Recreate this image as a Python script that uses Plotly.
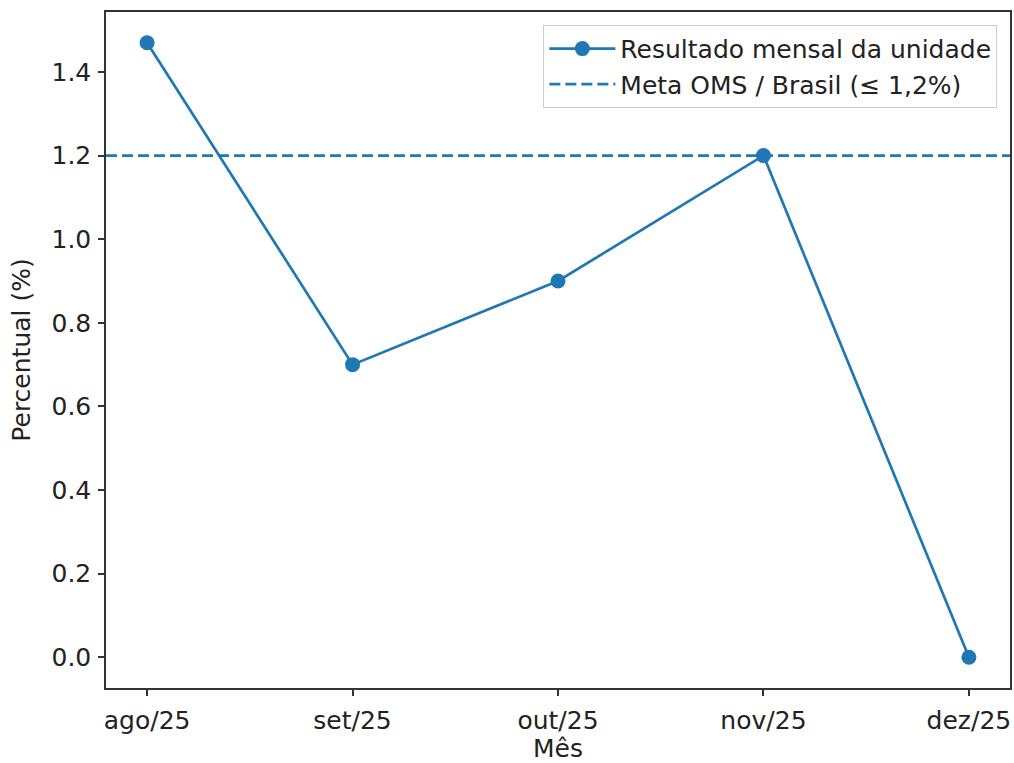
import plotly.graph_objects as go

meses = ["ago/25", "set/25", "out/25", "nov/25", "dez/25"]
resultado = [1.47, 0.70, 0.90, 1.20, 0.00]
meta = 1.2
yticks = [0.0, 0.2, 0.4, 0.6, 0.8, 1.0, 1.2, 1.4]

BLUE = "#1f77b4"
FONT = "DejaVu Sans"
FS = 25

fig = go.Figure()
fig.add_trace(go.Scatter(
    x=meses, y=resultado, mode="lines+markers",
    name="Resultado mensal da unidade",
    line=dict(color=BLUE, width=2.7),
    marker=dict(color=BLUE, size=15),
))
fig.add_trace(go.Scatter(
    x=[-0.2, 4.2], y=[meta, meta], mode="lines",
    name="Meta OMS / Brasil (≤ 1,2%)",
    line=dict(color=BLUE, width=2.7, dash="11px,5px"),
    xaxis="x2",
))

axis_common = dict(
    showline=True, linecolor="#333", linewidth=1.5, mirror=True,
    ticks="outside", ticklen=6, tickcolor="#333", tickwidth=1.5,
    showgrid=False, zeroline=False, automargin=False,
    tickfont=dict(family=FONT, size=FS, color="#222"),
)

fig.update_layout(
    width=1014, height=763,
    margin=dict(l=106, r=4, t=12, b=75),
    paper_bgcolor="white", plot_bgcolor="white",
    font=dict(family=FONT, color="#222"),
    xaxis=dict(type="category", range=[-0.2, 4.2], ticklabelstandoff=3,
               title=dict(text="Mês", font=dict(family=FONT, size=FS), standoff=10),
               **axis_common),
    xaxis2=dict(range=[-0.2, 4.2], overlaying="x", visible=False),
    yaxis=dict(range=[-0.0735, 1.5435], tickvals=yticks, tickformat=".1f",
               ticklabelstandoff=2,
               title=dict(text="Percentual (%)", font=dict(family=FONT, size=FS), standoff=14),
               **axis_common),
    legend=dict(x=0.986, y=0.981, xanchor="right", yanchor="top",
                bgcolor="rgba(255,255,255,0.8)", bordercolor="#cccccc", borderwidth=1,
                font=dict(family=FONT, size=FS, color="#222"),
                itemwidth=66, tracegroupgap=0),
    showlegend=True,
)

fig.write_html(
    "out.html",
    config={"displayModeBar": False},
    post_script="document.body.style.margin='0';document.body.style.overflow='hidden';",
)
